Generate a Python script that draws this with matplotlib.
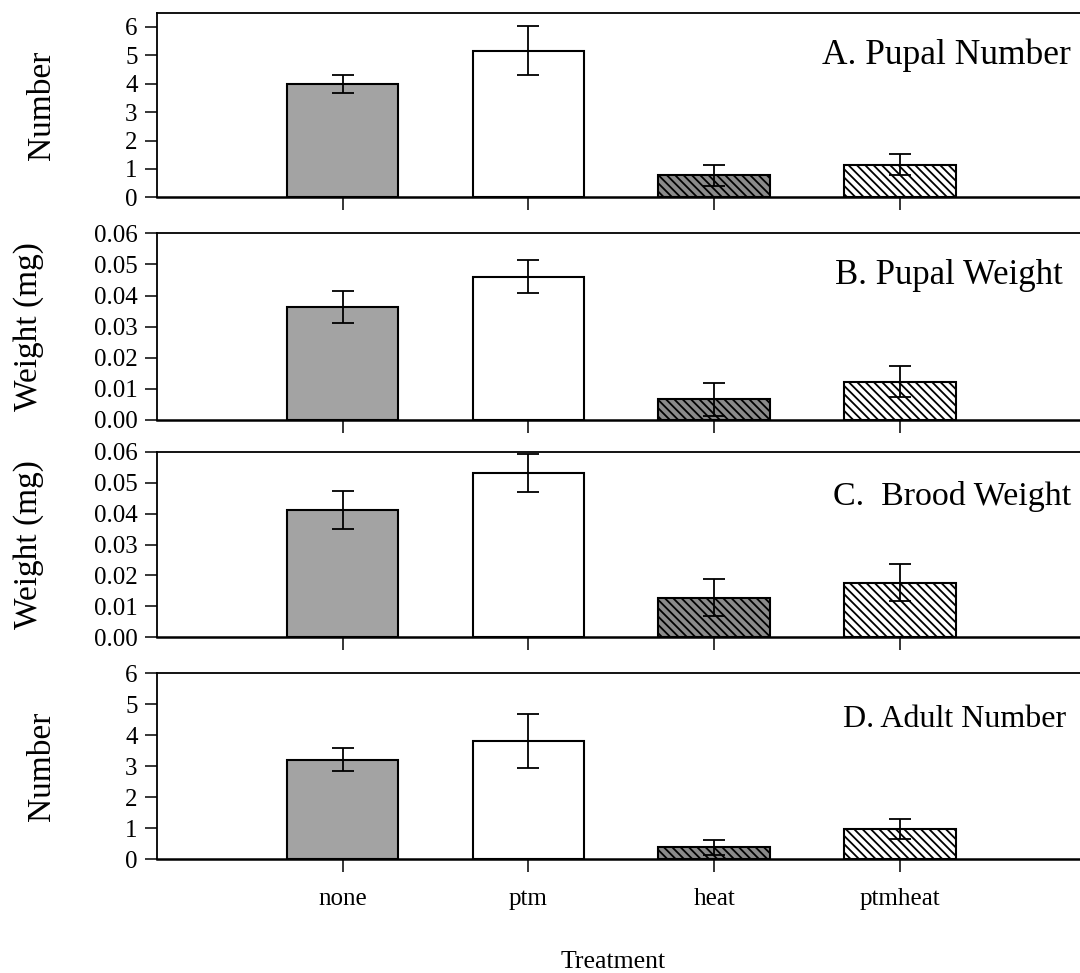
import matplotlib.pyplot as plt

#Data
treatments = ['none', 'ptm', 'heat', 'ptmheat']

pupal_number = [4.0, 5.16, 0.77, 1.15]
pupal_number_se = [0.31, 0.87, 0.37, 0.38]

pupal_weight = [0.0364, 0.0461, 0.0067, 0.0123]
pupal_weight_se = [0.0051, 0.0052, 0.0053, 0.0050]

brood_weight = [0.0411, 0.0530, 0.0128, 0.0177]
brood_weight_se = [0.0061, 0.0061, 0.0060, 0.0060]

adult_number = [3.21, 3.80, 0.38, 0.97]
adult_number_se = [0.38, 0.87, 0.25, 0.32]

panel_titles = ['A. Pupal Number', 'B. Pupal Weight', 'C.  Brood Weight', 'D. Adult Number']
y_labels = ['Number', 'Weight (mg)', 'Weight (mg)', 'Number']

#Bar styles
face_colors = ['#a3a3a3', 'white', '#8a8a8a', 'white']
hatches = ['', '', '\\\\\\\\', '\\\\\\\\']

plt.rcParams['font.family'] = ['Liberation Serif', 'DejaVu Serif']
plt.rcParams['hatch.linewidth'] = 1.3

fig = plt.figure(figsize=(10.8, 9.73), dpi=100)

#Axes positions in figure pixels (top, bottom)
panel_px = [(12.7, 197.3), (233.3, 420.0), (451.7, 637.3), (673.3, 859.0)]
left = 157 / 1080
width = 1 - left

values = [pupal_number, pupal_weight, brood_weight, adult_number]
errors = [pupal_number_se, pupal_weight_se, brood_weight_se, adult_number_se]
ylims = [(0, 6.5), (0, 0.06), (0, 0.06), (0, 6)]
yticks = [range(0, 7), [0, 0.01, 0.02, 0.03, 0.04, 0.05, 0.06],
          [0, 0.01, 0.02, 0.03, 0.04, 0.05, 0.06], range(0, 7)]
title_x = [0.72, 0.735, 0.732, 0.743]
title_y = [0.77, 0.775, 0.76, 0.75]
title_size = [25.5, 25, 24.5, 23]
label_x = [-0.108, -0.122, -0.122, -0.108]

x = list(range(len(treatments)))

for i in range(4):
    top, bottom = panel_px[i]
    ax = fig.add_axes([left, 1 - bottom / 973, width, (bottom - top) / 973])

    ax.bar(x, values[i], width=0.6, color=face_colors, edgecolor='black',
           linewidth=1.5, hatch=hatches, zorder=2)
    ax.errorbar(x, values[i], yerr=errors[i], fmt='none', ecolor='black',
                elinewidth=1.3, capsize=8, capthick=1.3, zorder=3)

    ax.set_xlim(-1.0, 3.97)
    ax.set_ylim(*ylims[i])
    ax.set_yticks(list(yticks[i]))
    if i in (1, 2):
        ax.set_yticklabels(['%.2f' % v for v in yticks[i]])
    ax.set_xticks(x)
    if i == 3:
        ax.set_xticklabels(treatments, fontsize=19)
    else:
        ax.set_xticklabels([])

    ax.spines['right'].set_visible(False)
    for s in ['left', 'top', 'bottom']:
        ax.spines[s].set_linewidth(1.3)
    ax.spines['bottom'].set_linewidth(1.8)
    ax.tick_params(axis='both', direction='out', length=9, width=1.1,
                   labelsize=18, pad=5)
    ax.tick_params(axis='x', pad=12)

    ax.set_ylabel(y_labels[i], fontsize=24)
    ax.yaxis.set_label_coords(label_x[i], 0.5)

    ax.text(title_x[i], title_y[i], panel_titles[i], transform=ax.transAxes,
            fontsize=title_size[i], ha='left', va='center')

fig.text(613 / 1080, 1 - 962 / 973, 'Treatment', fontsize=18.5,
         ha='center', va='center')

fig.savefig('out.png', dpi=100)
